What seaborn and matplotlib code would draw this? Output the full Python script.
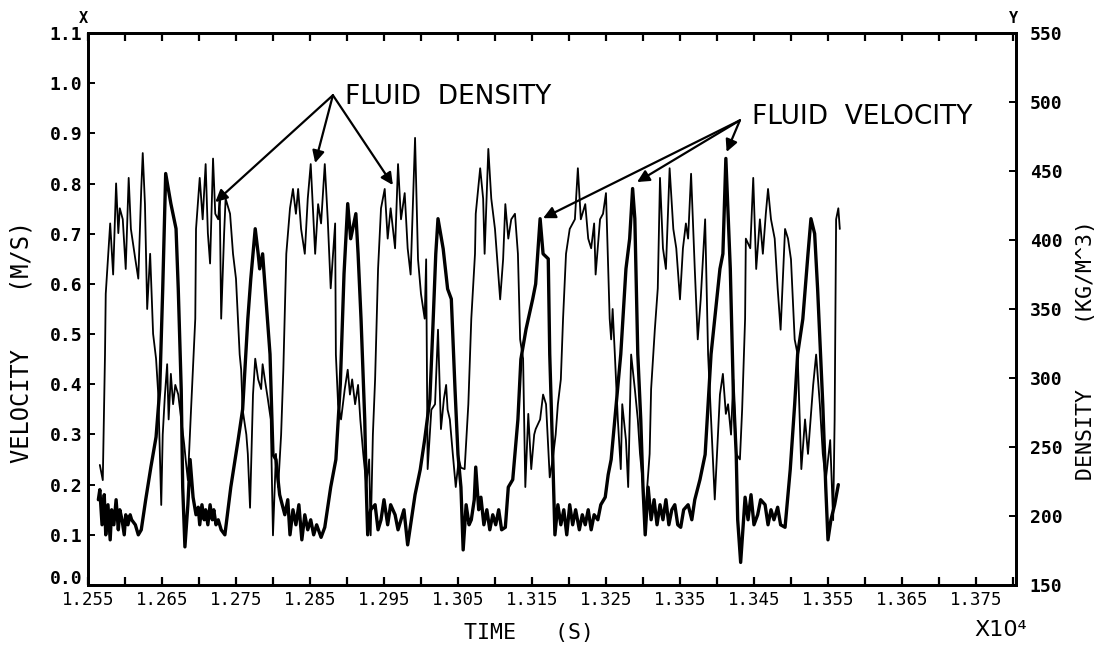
import numpy as np
import matplotlib
matplotlib.use("Agg")
import matplotlib.pyplot as plt
import matplotlib.transforms as mtransforms
import seaborn as sns

# ---------------- data ----------------
# time in units of 10^4 s
velocity_time = [
    1.2564, 1.2566, 1.2569, 1.2572, 1.2574, 1.2577, 1.2580, 1.2582, 1.2585, 1.2588,
    1.2591, 1.2593, 1.2596, 1.2599, 1.2601, 1.2604, 1.2607, 1.2609, 1.2614, 1.2618,
    1.2622, 1.2628, 1.2635, 1.2642, 1.2647, 1.2651, 1.2655, 1.2662, 1.2669, 1.2672,
    1.2676, 1.2678, 1.2681, 1.2685, 1.2688, 1.2692, 1.2696, 1.2699, 1.2701, 1.2704,
    1.2707, 1.2709, 1.2712, 1.2715, 1.2718, 1.2720, 1.2723, 1.2726, 1.2730, 1.2735,
    1.2743, 1.2753, 1.2759, 1.2766, 1.2770, 1.2776, 1.2780, 1.2782, 1.2786, 1.2791,
    1.2796, 1.2800, 1.2804, 1.2809, 1.2816, 1.2820, 1.2823, 1.2827, 1.2831, 1.2835,
    1.2839, 1.2843, 1.2847, 1.2851, 1.2855, 1.2859, 1.2865, 1.2870, 1.2878, 1.2885,
    1.2891, 1.2896, 1.2901, 1.2905, 1.2912, 1.2915, 1.2919, 1.2924, 1.2926, 1.2928,
    1.2932, 1.2938, 1.2942, 1.2946, 1.2950, 1.2955, 1.2959, 1.2965, 1.2969, 1.2973,
    1.2977, 1.2982, 1.2986, 1.2992, 1.2999, 1.3005, 1.3012, 1.3016, 1.3020, 1.3023,
    1.3030, 1.3036, 1.3041, 1.3046, 1.3050, 1.3054, 1.3057, 1.3061, 1.3065, 1.3068,
    1.3072, 1.3074, 1.3078, 1.3081, 1.3085, 1.3089, 1.3093, 1.3097, 1.3101, 1.3105,
    1.3109, 1.3114, 1.3118, 1.3124, 1.3131, 1.3135, 1.3142, 1.3151, 1.3155, 1.3161,
    1.3165, 1.3172, 1.3174, 1.3178, 1.3181, 1.3185, 1.3189, 1.3193, 1.3197, 1.3201,
    1.3205, 1.3209, 1.3214, 1.3218, 1.3222, 1.3226, 1.3230, 1.3234, 1.3239, 1.3243,
    1.3249, 1.3253, 1.3257, 1.3262, 1.3270, 1.3277, 1.3282, 1.3286, 1.3289, 1.3291,
    1.3293, 1.3297, 1.3300, 1.3303, 1.3307, 1.3311, 1.3315, 1.3319, 1.3323, 1.3327,
    1.3331, 1.3335, 1.3339, 1.3343, 1.3347, 1.3351, 1.3355, 1.3361, 1.3366, 1.3370,
    1.3377, 1.3384, 1.3388, 1.3392, 1.3397, 1.3404, 1.3408, 1.3412, 1.3418, 1.3422,
    1.3426, 1.3428, 1.3432, 1.3438, 1.3442, 1.3446, 1.3450, 1.3455, 1.3459, 1.3465,
    1.3469, 1.3473, 1.3477, 1.3482, 1.3486, 1.3492, 1.3499, 1.3505, 1.3509, 1.3516,
    1.3523, 1.3527, 1.3532, 1.3536, 1.3540, 1.3543, 1.3547, 1.3550, 1.3554, 1.3559,
    1.3564,
]
# fluid velocity, m/s (left axis)
velocity_ms = [
    0.17, 0.19, 0.12, 0.18, 0.10, 0.16, 0.09, 0.15, 0.12, 0.17,
    0.11, 0.15, 0.13, 0.10, 0.14, 0.12, 0.14, 0.13, 0.12, 0.10,
    0.11, 0.17, 0.235, 0.295, 0.39, 0.59, 0.82, 0.76, 0.71, 0.59,
    0.39, 0.195, 0.076, 0.16, 0.25, 0.175, 0.14, 0.155, 0.12, 0.16,
    0.13, 0.15, 0.12, 0.16, 0.13, 0.15, 0.12, 0.13, 0.11, 0.10,
    0.195, 0.29, 0.35, 0.53, 0.61, 0.71, 0.66, 0.63, 0.66, 0.56,
    0.46, 0.26, 0.25, 0.18, 0.14, 0.17, 0.10, 0.15, 0.12, 0.16,
    0.09, 0.14, 0.11, 0.13, 0.10, 0.12, 0.095, 0.115, 0.195, 0.25,
    0.40, 0.62, 0.76, 0.69, 0.74, 0.66, 0.53, 0.33, 0.195, 0.10,
    0.15, 0.16, 0.11, 0.13, 0.17, 0.12, 0.16, 0.14, 0.11, 0.13,
    0.15, 0.08, 0.12, 0.18, 0.23, 0.29, 0.37, 0.51, 0.66, 0.73,
    0.67, 0.59, 0.57, 0.39, 0.26, 0.195, 0.07, 0.16, 0.12, 0.13,
    0.17, 0.235, 0.15, 0.175, 0.12, 0.15, 0.11, 0.14, 0.12, 0.15,
    0.11, 0.115, 0.195, 0.21, 0.33, 0.45, 0.51, 0.57, 0.60, 0.73,
    0.66, 0.65, 0.46, 0.26, 0.10, 0.16, 0.12, 0.15, 0.10, 0.16,
    0.12, 0.15, 0.11, 0.14, 0.12, 0.15, 0.11, 0.14, 0.13, 0.16,
    0.175, 0.22, 0.25, 0.33, 0.46, 0.63, 0.69, 0.79, 0.73, 0.59,
    0.46, 0.33, 0.195, 0.10, 0.195, 0.13, 0.17, 0.12, 0.16, 0.13,
    0.17, 0.12, 0.15, 0.16, 0.12, 0.115, 0.15, 0.16, 0.13, 0.17,
    0.21, 0.26, 0.36, 0.46, 0.53, 0.63, 0.66, 0.85, 0.63, 0.39,
    0.26, 0.13, 0.045, 0.175, 0.13, 0.18, 0.12, 0.14, 0.17, 0.16,
    0.12, 0.15, 0.13, 0.155, 0.12, 0.115, 0.23, 0.36, 0.46, 0.53,
    0.66, 0.73, 0.70, 0.59, 0.46, 0.36, 0.195, 0.09, 0.13, 0.16,
    0.20,
]

density_time = [
    1.2566, 1.2570, 1.2573, 1.2574, 1.2580, 1.2584, 1.2588, 1.2591, 1.2593, 1.2597,
    1.2601, 1.2605, 1.2608, 1.2611, 1.2614, 1.2618, 1.2622, 1.2624, 1.2627, 1.2630,
    1.2634, 1.2638, 1.2642, 1.2645, 1.2649, 1.2651, 1.2654, 1.2657, 1.2659, 1.2662,
    1.2665, 1.2668, 1.2672, 1.2676, 1.2680, 1.2682, 1.2685, 1.2689, 1.2695, 1.2696,
    1.2701, 1.2705, 1.2709, 1.2712, 1.2715, 1.2719, 1.2722, 1.2726, 1.2728, 1.2730,
    1.2734, 1.2736, 1.2742, 1.2746, 1.2750, 1.2755, 1.2757, 1.2759, 1.2764, 1.2766,
    1.2769, 1.2773, 1.2776, 1.2780, 1.2784, 1.2786, 1.2789, 1.2793, 1.2797, 1.2800,
    1.2804, 1.2807, 1.2811, 1.2814, 1.2818, 1.2823, 1.2827, 1.2831, 1.2834, 1.2838,
    1.2843, 1.2847, 1.2851, 1.2857, 1.2861, 1.2865, 1.2870, 1.2874, 1.2878, 1.2884,
    1.2885, 1.2888, 1.2892, 1.2897, 1.2901, 1.2904, 1.2907, 1.2911, 1.2915, 1.2918,
    1.2922, 1.2926, 1.2930, 1.2932, 1.2935, 1.2938, 1.2942, 1.2946, 1.2951, 1.2955,
    1.2959, 1.2965, 1.2969, 1.2973, 1.2978, 1.2982, 1.2986, 1.2992, 1.2996, 1.3000,
    1.3005, 1.3007, 1.3009, 1.3014, 1.3019, 1.3023, 1.3027, 1.3031, 1.3034, 1.3036,
    1.3039, 1.3043, 1.3047, 1.3051, 1.3054, 1.3059, 1.3064, 1.3068, 1.3073, 1.3074,
    1.3080, 1.3084, 1.3086, 1.3091, 1.3095, 1.3100, 1.3104, 1.3107, 1.3111, 1.3114,
    1.3118, 1.3122, 1.3127, 1.3131, 1.3134, 1.3138, 1.3141, 1.3145, 1.3149, 1.3153,
    1.3155, 1.3161, 1.3165, 1.3169, 1.3174, 1.3178, 1.3182, 1.3185, 1.3189, 1.3192,
    1.3196, 1.3201, 1.3208, 1.3212, 1.3216, 1.3222, 1.3226, 1.3230, 1.3234, 1.3236,
    1.3242, 1.3246, 1.3250, 1.3255, 1.3257, 1.3259, 1.3262, 1.3266, 1.3270, 1.3272,
    1.3277, 1.3280, 1.3284, 1.3289, 1.3293, 1.3296, 1.3300, 1.3303, 1.3307, 1.3309,
    1.3311, 1.3316, 1.3320, 1.3323, 1.3327, 1.3331, 1.3336, 1.3341, 1.3345, 1.3350,
    1.3354, 1.3358, 1.3361, 1.3365, 1.3370, 1.3374, 1.3378, 1.3384, 1.3388, 1.3392,
    1.3397, 1.3401, 1.3404, 1.3408, 1.3412, 1.3415, 1.3419, 1.3422, 1.3426, 1.3431,
    1.3434, 1.3438, 1.3439, 1.3445, 1.3449, 1.3453, 1.3458, 1.3462, 1.3466, 1.3469,
    1.3473, 1.3478, 1.3482, 1.3486, 1.3492, 1.3496, 1.3500, 1.3505, 1.3509, 1.3514,
    1.3519, 1.3523, 1.3527, 1.3530, 1.3534, 1.3539, 1.3543, 1.3547, 1.3553, 1.3557,
    1.3559, 1.3561, 1.3564, 1.3566,
]
# fluid density, kg/m^3 (right axis)
density_kgm3 = [
    237, 226, 317, 361, 412, 375, 441, 405, 423, 415,
    379, 445, 408, 397, 386, 372, 437, 463, 426, 350,
    390, 332, 314, 288, 208, 259, 288, 310, 270, 303,
    281, 295, 288, 270, 252, 241, 226, 274, 343, 408,
    445, 415, 455, 405, 383, 459, 419, 415, 430, 343,
    405, 430, 419, 390, 372, 317, 306, 277, 259, 245,
    206, 288, 314, 299, 292, 310, 299, 285, 270, 186,
    245, 221, 259, 306, 390, 423, 437, 419, 437, 408,
    390, 430, 455, 390, 426, 412, 455, 415, 365, 412,
    317, 281, 270, 292, 306, 288, 299, 281, 295, 270,
    245, 223, 241, 186, 259, 299, 379, 423, 437, 401,
    423, 394, 455, 415, 434, 394, 375, 474, 386, 361,
    343, 386, 234, 277, 281, 335, 263, 285, 295, 277,
    270, 245, 221, 241, 235, 234, 281, 343, 390, 419,
    452, 430, 390, 466, 430, 408, 379, 357, 386, 426,
    401, 415, 419, 390, 328, 314, 221, 274, 234, 259,
    263, 270, 288, 281, 228, 241, 259, 281, 299, 343,
    390, 408, 415, 452, 415, 426, 401, 394, 412, 375,
    415, 419, 434, 343, 328, 350, 317, 270, 234, 281,
    255, 221, 317, 292, 270, 245, 223, 201, 230, 245,
    292, 335, 365, 445, 394, 379, 452, 408, 394, 357,
    394, 412, 401, 448, 379, 328, 357, 415, 317, 270,
    212, 255, 288, 303, 274, 281, 259, 299, 245, 241,
    277, 343, 401, 394, 445, 379, 415, 390, 419, 437,
    415, 401, 365, 335, 408, 401, 386, 328, 317, 234,
    270, 245, 274, 295, 317, 281, 245, 226, 255, 197,
    270, 415, 423, 408,
]

x_major_ticks = [1.255, 1.265, 1.275, 1.285, 1.295, 1.305, 1.315, 1.325, 1.335, 1.345, 1.355, 1.365, 1.375]
x_minor_ticks = [1.260, 1.270, 1.280, 1.290, 1.300, 1.310, 1.320, 1.330, 1.340, 1.350, 1.360, 1.370, 1.380]
vel_ticks = [0.0, 0.1, 0.2, 0.3, 0.4, 0.5, 0.6, 0.7, 0.8, 0.9, 1.0, 1.1]
den_ticks = [150, 200, 250, 300, 350, 400, 450, 500, 550]

# annotation anchor points (data coordinates on the velocity axis)
density_note_origin = (1.2881, 0.976)
density_note_targets = [(1.2722, 0.763), (1.2857, 0.841), (1.2962, 0.797)]
velocity_note_origin = (1.3431, 0.926)
velocity_note_targets = [(1.3165, 0.731), (1.3292, 0.803), (1.3413, 0.863)]

assert len(velocity_time) == len(velocity_ms)
assert len(density_time) == len(density_kgm3)

# ---------------- style ----------------
sns.set_theme(style="ticks", rc={
    "axes.edgecolor": "black", "xtick.color": "black", "ytick.color": "black",
    "axes.linewidth": 2.0, "text.color": "black",
})
plt.rcParams['font.family'] = ['DejaVu Sans Mono', 'DejaVu Sans']

fig = plt.figure(figsize=(10.97, 6.47), dpi=100)
ax = fig.add_axes([0.0802, 0.0958, 0.8459, 0.8532])
ax2 = ax.twinx()

sns.lineplot(x=density_time, y=density_kgm3, ax=ax2, color="black",
             linewidth=1.3, estimator=None, sort=False)
sns.lineplot(x=velocity_time, y=velocity_ms, ax=ax, color="black",
             linewidth=2.4, estimator=None, sort=False)

ax.set_xlim(1.255, 1.3804)
ax.set_ylim(0.0, 1.1)
ax2.set_ylim(150, 550)

ax.set_xticks(x_major_ticks)
ax.set_xticklabels([f"{v:.3f}" for v in x_major_ticks], fontsize=12.5)
ax.set_xticks(x_minor_ticks, minor=True)
ax.set_yticks(vel_ticks)
ax.set_yticklabels([f"{v:.1f}" for v in vel_ticks], fontsize=13, fontweight="bold")
ax2.set_yticks(den_ticks)
ax2.set_yticklabels([str(v) for v in den_ticks], fontsize=13, fontweight="bold")

ax.tick_params(axis="x", which="both", direction="in", top=True, bottom=True,
               length=6, width=1.6, pad=4)
ax.tick_params(axis="y", which="both", direction="in", left=True, right=False,
               length=5, width=1.4, pad=4)
ax2.tick_params(axis="y", direction="in", right=True, length=5, width=1.4, pad=10)

# lift the "0.0" label slightly, as in the original, so it clears "1.255"
lbl0 = ax.get_yticklabels()[0]
lbl0.set_transform(lbl0.get_transform() +
                   mtransforms.ScaledTranslation(0, 6 / 72, fig.dpi_scale_trans))

for a in (ax, ax2):
    a.set_xlabel("")
    a.set_ylabel("")
    for s in a.spines.values():
        s.set_linewidth(2.0)
        s.set_color("black")

# annotations
for tgt in density_note_targets:
    ax.annotate("", xy=tgt, xytext=density_note_origin,
                arrowprops=dict(arrowstyle="-|>", color="black", lw=1.6,
                                mutation_scale=18, shrinkA=0, shrinkB=0))
for tgt in velocity_note_targets:
    ax.annotate("", xy=tgt, xytext=velocity_note_origin,
                arrowprops=dict(arrowstyle="-|>", color="black", lw=1.6,
                                mutation_scale=18, shrinkA=0, shrinkB=0))
ax.text(1.2897, 0.972, "FLUID  DENSITY", ha="left", va="center",
        fontsize=19, family="DejaVu Sans")
ax.text(1.3447, 0.932, "FLUID  VELOCITY", ha="left", va="center",
        fontsize=19, family="DejaVu Sans")

# axis titles and decorations
fig.text(0.020, 0.471, "VELOCITY    (M/S)", rotation=90, ha="center", va="center", fontsize=17)
fig.text(0.482, 0.022, "TIME   (S)", ha="center", va="center", fontsize=15.5)
fig.text(0.990, 0.459, "DENSITY     (KG/M^3)", rotation=90, ha="center", va="center", fontsize=15.5)
fig.text(0.9125, 0.026, "X10\u2074", ha="center", va="center", fontsize=16, family="DejaVu Sans")
fig.text(0.0757, 0.972, "X", ha="center", va="center", fontsize=11, fontweight="bold")
fig.text(0.9235, 0.972, "Y", ha="center", va="center", fontsize=11, fontweight="bold")

fig.savefig("out.png", dpi=100, facecolor="white")
